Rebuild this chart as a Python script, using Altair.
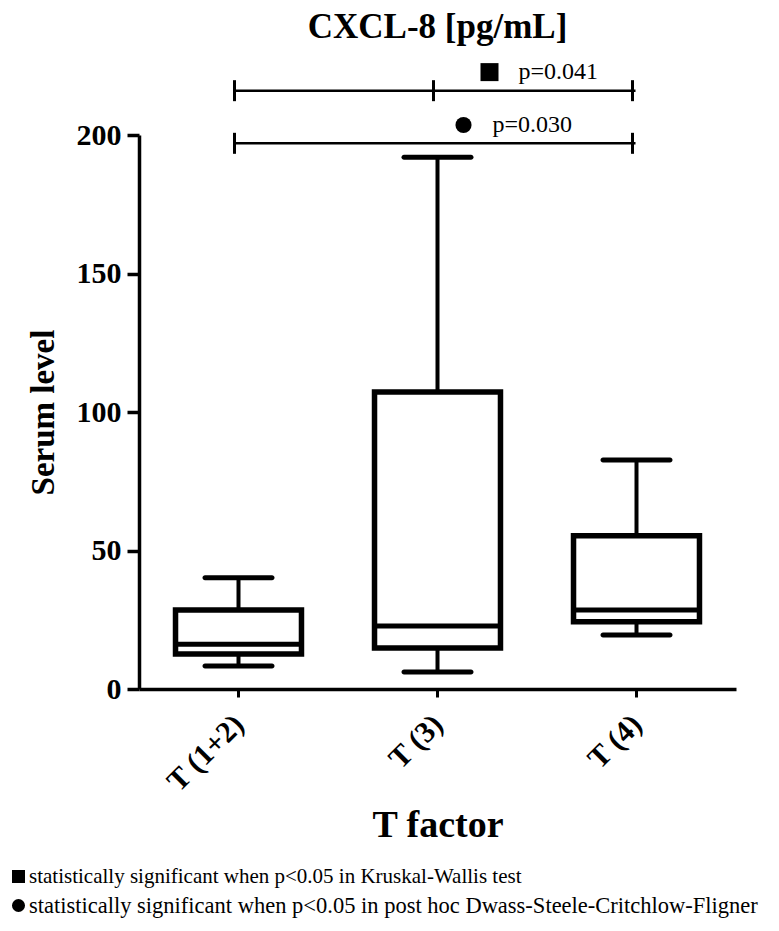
import altair as alt
import pandas as pd

# ---- box-plot summary values ----
categories = ["T (1+2)", "T (3)", "T (4)"]
whisker_low = [8.3, 6.1, 19.5]
q1 = [12.6, 14.8, 24.3]
median = [16.2, 22.7, 28.5]
q3 = [28.5, 107.2, 55.3]
whisker_high = [40.2, 192.0, 82.7]

# ---- significance annotations ----
sig_tests = [
    "statistically significant when p<0.05 in Kruskal-Wallis test",
    "statistically significant when p<0.05 in post hoc Dwass-Steele-Critchlow-Fligner",
]
sig_p = ["p=0.041", "p=0.030"]
sig_marker_cat = ["T (3)", "T (3)"]
sig_marker_y = [222.7, 203.6]
bracket_from = ["T (1+2)", "T (1+2)"]
bracket_to = ["T (4)", "T (4)"]
bracket_y = [216.0, 197.0]
bracket_tick_cat = ["T (1+2)", "T (3)", "T (4)", "T (1+2)", "T (4)"]
bracket_tick_y = [216.0, 216.0, 216.0, 197.0, 197.0]

FONT = "Liberation Serif"

box_df = pd.DataFrame({
    "cat": categories, "lo": whisker_low, "q1": q1, "med": median,
    "q3": q3, "hi": whisker_high,
})
sig_df = pd.DataFrame({
    "test": sig_tests, "p": sig_p, "cat": sig_marker_cat, "y": sig_marker_y,
    "from": bracket_from, "to": bracket_to, "by": bracket_y,
})
tick_df = pd.DataFrame({"cat": bracket_tick_cat, "y": bracket_tick_y})

x_scale = alt.Scale(domain=categories, paddingInner=0.367, paddingOuter=0.1835)
y_scale = alt.Scale(domain=[0, 200], nice=False)

x_axis = alt.Axis(
    title="T factor", labelAngle=-45, labelFont=FONT, labelFontSize=30,
    labelFontWeight="bold", labelColor="black", tickSize=8, tickWidth=3,
    tickColor="black", domainColor="black", domainWidth=3.5, labelPadding=12,
    labelOffset=-10,
    titleFont=FONT, titleFontSize=38, titleFontWeight="bold", titleColor="black",
    titlePadding=9, grid=False,
)
y_axis = alt.Axis(
    title="Serum level", values=[0, 50, 100, 150, 200], labelFont=FONT,
    labelFontSize=30, labelFontWeight="bold", labelColor="black", tickSize=12,
    tickWidth=3.5, tickColor="black", domainColor="black", domainWidth=3.5,
    labelPadding=6, titleFont=FONT, titleFontSize=33, titleFontWeight="bold",
    titleColor="black", titlePadding=16, grid=False,
)

X = alt.X("cat:N", scale=x_scale, axis=x_axis)

base = alt.Chart(box_df)

whisk_up = base.mark_rule(color="black", strokeWidth=4).encode(
    x=X, y=alt.Y("q3:Q", scale=y_scale, axis=y_axis), y2="hi:Q")
whisk_dn = base.mark_rule(color="black", strokeWidth=4).encode(
    x=X, y=alt.Y("lo:Q", scale=y_scale, axis=y_axis), y2="q1:Q")
cap_hi = base.mark_tick(color="black", size=72, thickness=5, opacity=1,
                        cornerRadius=2.5, orient="horizontal").encode(
    x=X, y=alt.Y("hi:Q", scale=y_scale, axis=y_axis))
cap_lo = base.mark_tick(color="black", size=72, thickness=5, opacity=1,
                        cornerRadius=2.5, orient="horizontal").encode(
    x=X, y=alt.Y("lo:Q", scale=y_scale, axis=y_axis))
box = base.mark_bar(fill="white", stroke="black", strokeWidth=5.5).encode(
    x=X, y=alt.Y("q1:Q", scale=y_scale, axis=y_axis), y2="q3:Q")
med = base.mark_tick(color="black", size=131, thickness=5, opacity=1,
                     orient="horizontal").encode(
    x=X, y=alt.Y("med:Q", scale=y_scale, axis=y_axis))

sig = alt.Chart(sig_df)
brackets = sig.mark_rule(color="black", strokeWidth=2.5, xOffset=-4, x2Offset=-1).encode(
    x=alt.X("from:N", scale=x_scale, axis=x_axis), x2="to:N",
    y=alt.Y("by:Q", scale=y_scale, axis=y_axis))
bticks = alt.Chart(tick_df).mark_tick(color="black", size=21, thickness=3,
                                      opacity=1, orient="vertical", xOffset=-4).encode(
    x=X, y=alt.Y("y:Q", scale=y_scale, axis=y_axis))

shape_enc = alt.Shape(
    "test:N",
    scale=alt.Scale(domain=sig_tests, range=["square", "circle"]),
    legend=alt.Legend(
        title=None, orient="none", legendX=-131, legendY=731, direction="vertical",
        labelFont=FONT, labelFontSize={"expr": "datum.index == 1 ? 22.5 : 21"},
        labelColor="black", labelLimit=0,
        symbolSize=170, symbolFillColor="black", symbolStrokeColor="black",
        symbolStrokeWidth=0, rowPadding=7, labelOffset=0, padding=0,
    ),
)

mk_sq = sig.transform_filter(alt.datum.p == sig_p[0]).mark_point(
    filled=True, color="black", size=324, opacity=1, xOffset=52).encode(
    x=X, y=alt.Y("y:Q", scale=y_scale, axis=y_axis), shape=shape_enc)
mk_ci = sig.transform_filter(alt.datum.p == sig_p[1]).mark_point(
    filled=True, color="black", size=260, opacity=1, xOffset=26).encode(
    x=X, y=alt.Y("y:Q", scale=y_scale, axis=y_axis), shape=shape_enc)
tx_sq = sig.transform_filter(alt.datum.p == sig_p[0]).mark_text(
    align="left", baseline="middle", dx=81, font=FONT, fontSize=24, color="black").encode(
    x=X, y=alt.Y("y:Q", scale=y_scale, axis=y_axis), text="p:N")
tx_ci = sig.transform_filter(alt.datum.p == sig_p[1]).mark_text(
    align="left", baseline="middle", dx=55, font=FONT, fontSize=24, color="black").encode(
    x=X, y=alt.Y("y:Q", scale=y_scale, axis=y_axis), text="p:N")

chart = alt.layer(
    whisk_up, whisk_dn, cap_hi, cap_lo, box, med,
    brackets, bticks, mk_sq, mk_ci, tx_sq, tx_ci,
).properties(
    width=597, height=554,
    title=alt.TitleParams("CXCL-8 [pg/mL]", font=FONT, fontSize=35,
                          fontWeight="bold", color="black", anchor="middle",
                          offset=15),
    autosize=alt.AutoSizeParams(type="none"),
    padding={"left": 131, "top": 127, "right": 35, "bottom": 232},
).configure(background="white").configure_view(strokeWidth=0)

chart.save("out.html", embed_options={"renderer": "svg", "actions": False})
